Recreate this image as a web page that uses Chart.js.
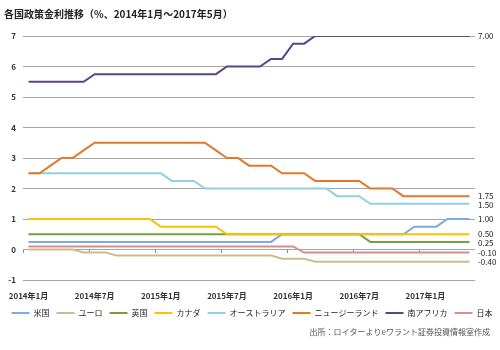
<!DOCTYPE html>
<html>
<head>
<meta charset="utf-8">
<script src="https://cdn.jsdelivr.net/npm/chart.js@4.4.1/dist/chart.umd.min.js"></script>
<style>
  html, body { margin: 0; padding: 0; background: #fff; }
</style>
</head>
<body>
<canvas id="c" width="500" height="350"></canvas>
<script>
// 各国政策金利推移 — monthly, 2014/1 .. 2017/5
const FONT = '"Noto Sans CJK JP", "Noto Sans", sans-serif';

const months = [
  '2014年1月', '2014年2月', '2014年3月', '2014年4月', '2014年5月', '2014年6月',
  '2014年7月', '2014年8月', '2014年9月', '2014年10月', '2014年11月', '2014年12月',
  '2015年1月', '2015年2月', '2015年3月', '2015年4月', '2015年5月', '2015年6月',
  '2015年7月', '2015年8月', '2015年9月', '2015年10月', '2015年11月', '2015年12月',
  '2016年1月', '2016年2月', '2016年3月', '2016年4月', '2016年5月', '2016年6月',
  '2016年7月', '2016年8月', '2016年9月', '2016年10月', '2016年11月', '2016年12月',
  '2017年1月', '2017年2月', '2017年3月', '2017年4月', '2017年5月'
];

const us = [0.25, 0.25, 0.25, 0.25, 0.25, 0.25, 0.25, 0.25, 0.25, 0.25, 0.25, 0.25,
  0.25, 0.25, 0.25, 0.25, 0.25, 0.25, 0.25, 0.25, 0.25, 0.25, 0.25, 0.5,
  0.5, 0.5, 0.5, 0.5, 0.5, 0.5, 0.5, 0.5, 0.5, 0.5, 0.5, 0.75,
  0.75, 0.75, 1.0, 1.0, 1.0];
const euro = [0, 0, 0, 0, 0, -0.1, -0.1, -0.1, -0.2, -0.2, -0.2, -0.2,
  -0.2, -0.2, -0.2, -0.2, -0.2, -0.2, -0.2, -0.2, -0.2, -0.2, -0.2, -0.3,
  -0.3, -0.3, -0.4, -0.4, -0.4, -0.4, -0.4, -0.4, -0.4, -0.4, -0.4, -0.4,
  -0.4, -0.4, -0.4, -0.4, -0.4];
const uk = [0.5, 0.5, 0.5, 0.5, 0.5, 0.5, 0.5, 0.5, 0.5, 0.5, 0.5, 0.5,
  0.5, 0.5, 0.5, 0.5, 0.5, 0.5, 0.5, 0.5, 0.5, 0.5, 0.5, 0.5,
  0.5, 0.5, 0.5, 0.5, 0.5, 0.5, 0.5, 0.25, 0.25, 0.25, 0.25, 0.25,
  0.25, 0.25, 0.25, 0.25, 0.25];
const canada = [1.0, 1.0, 1.0, 1.0, 1.0, 1.0, 1.0, 1.0, 1.0, 1.0, 1.0, 1.0,
  0.75, 0.75, 0.75, 0.75, 0.75, 0.75, 0.5, 0.5, 0.5, 0.5, 0.5, 0.5,
  0.5, 0.5, 0.5, 0.5, 0.5, 0.5, 0.5, 0.5, 0.5, 0.5, 0.5, 0.5,
  0.5, 0.5, 0.5, 0.5, 0.5];
const australia = [2.5, 2.5, 2.5, 2.5, 2.5, 2.5, 2.5, 2.5, 2.5, 2.5, 2.5, 2.5,
  2.5, 2.25, 2.25, 2.25, 2.0, 2.0, 2.0, 2.0, 2.0, 2.0, 2.0, 2.0,
  2.0, 2.0, 2.0, 2.0, 1.75, 1.75, 1.75, 1.5, 1.5, 1.5, 1.5, 1.5,
  1.5, 1.5, 1.5, 1.5, 1.5];
const newZealand = [2.5, 2.5, 2.75, 3.0, 3.0, 3.25, 3.5, 3.5, 3.5, 3.5, 3.5, 3.5,
  3.5, 3.5, 3.5, 3.5, 3.5, 3.25, 3.0, 3.0, 2.75, 2.75, 2.75, 2.5,
  2.5, 2.5, 2.25, 2.25, 2.25, 2.25, 2.25, 2.0, 2.0, 2.0, 1.75, 1.75,
  1.75, 1.75, 1.75, 1.75, 1.75];
const southAfrica = [5.5, 5.5, 5.5, 5.5, 5.5, 5.5, 5.75, 5.75, 5.75, 5.75, 5.75, 5.75,
  5.75, 5.75, 5.75, 5.75, 5.75, 5.75, 6.0, 6.0, 6.0, 6.0, 6.25, 6.25,
  6.75, 6.75, 7.0, 7.0, 7.0, 7.0, 7.0, 7.0, 7.0, 7.0, 7.0, 7.0,
  7.0, 7.0, 7.0, 7.0, 7.0];
const japan = [0.1, 0.1, 0.1, 0.1, 0.1, 0.1, 0.1, 0.1, 0.1, 0.1, 0.1, 0.1,
  0.1, 0.1, 0.1, 0.1, 0.1, 0.1, 0.1, 0.1, 0.1, 0.1, 0.1, 0.1,
  0.1, -0.1, -0.1, -0.1, -0.1, -0.1, -0.1, -0.1, -0.1, -0.1, -0.1, -0.1,
  -0.1, -0.1, -0.1, -0.1, -0.1];

const seriesNames = ['米国', 'ユーロ', '英国', 'カナダ', 'オーストラリア', 'ニュージーランド', '南アフリカ', '日本'];
const seriesData = [us, euro, uk, canada, australia, newZealand, southAfrica, japan];
const seriesColors = ['#7ea8e8', '#c9bc8f', '#77a03c', '#ffc000', '#8fd1e3', '#e2782a', '#5c4489', '#d98c8c'];
const yTicks = [-1, 0, 1, 2, 3, 4, 5, 6, 7];

const titleText = '各国政策金利推移（%、2014年1月～2017年5月）';
const sourceText = '出所：ロイターよりeワラント証券投資情報室作成';

// end-of-line value labels on the right
const endLabels = {
  id: 'endLabels',
  afterDatasetsDraw(chart) {
    const { ctx, chartArea, scales } = chart;
    const items = chart.data.datasets.map(ds => {
      const v = ds.data[ds.data.length - 1];
      return { v, y: scales.y.getPixelForValue(v) };
    }).sort((a, b) => a.y - b.y);
    for (let i = 1; i < items.length; i++) {
      if (items[i].y - items[i - 1].y < 9) items[i].y = items[i - 1].y + 9;
    }
    ctx.save();
    ctx.font = '8px ' + FONT;
    ctx.fillStyle = '#222';
    ctx.textAlign = 'left';
    ctx.textBaseline = 'middle';
    items.forEach(it => ctx.fillText(it.v.toFixed(2), chartArea.right + 3, it.y));
    ctx.restore();
  }
};

const sourceNote = {
  id: 'sourceNote',
  afterDraw(chart) {
    const { ctx } = chart;
    ctx.save();
    ctx.font = '8px ' + FONT;
    ctx.fillStyle = '#555';
    ctx.textAlign = 'right';
    ctx.textBaseline = 'middle';
    ctx.fillText(sourceText, 490, 332);
    ctx.restore();
  }
};

new Chart(document.getElementById('c').getContext('2d'), {
  type: 'line',
  data: {
    labels: months,
    datasets: seriesNames.map((name, i) => ({
      label: name,
      data: seriesData[i],
      borderColor: seriesColors[i],
      backgroundColor: seriesColors[i],
      borderWidth: 2,
      pointRadius: 0,
      tension: 0,
      order: -i,
    }))
  },
  options: {
    responsive: false,
    animation: false,
    layout: { padding: { left: 4, right: 0, top: 0, bottom: 23 } },
    plugins: {
      title: {
        display: true,
        text: titleText,
        align: 'start',
        color: '#222',
        font: { family: FONT, size: 10, weight: 'bold' },
        padding: { top: 8, bottom: 16 }
      },
      legend: {
        position: 'bottom',
        labels: {
          usePointStyle: true,
          pointStyle: 'line',
          pointStyleWidth: 18,
          boxHeight: 8,
          padding: 7,
          color: '#222',
          font: { family: FONT, size: 8 },
          sort: (a, b) => a.datasetIndex - b.datasetIndex
        }
      },
      tooltip: { enabled: false }
    },
    scales: {
      x: {
        type: 'category',
        offset: true,
        grid: { display: false },
        border: { display: false },
        ticks: {
          autoSkip: false,
          maxRotation: 0,
          padding: 3,
          color: '#333',
          font: { family: FONT, size: 8, weight: 'bold' },
          callback: (v, i) => (i % 6 === 0 ? months[i] : '')
        },
        afterFit: s => { s.height = 22; }
      },
      x2: {
        type: 'category',
        position: { y: 0 },
        offset: true,
        grid: {
          offset: true,
          drawOnChartArea: false,
          drawTicks: true,
          tickLength: 3,
          color: c => (c.index % 6 === 0 ? '#888' : 'rgba(0,0,0,0)')
        },
        border: { display: false },
        ticks: { display: false },
        afterFit: s => { s.height = 0; }
      },
      y: {
        min: -1,
        max: 7,
        afterBuildTicks: s => { s.ticks = yTicks.map(v => ({ value: v })); },
        grid: { color: '#a6a6a6', drawTicks: false },
        border: { display: false },
        ticks: {
          padding: 7,
          color: '#333',
          font: { family: FONT, size: 8, weight: 'bold' }
        },
        afterFit: s => { s.width = 19; }
      },
      y2: {
        position: 'right',
        grid: { display: false },
        border: { display: false },
        ticks: { display: false },
        afterFit: s => { s.width = 25; }
      }
    }
  },
  plugins: [endLabels, sourceNote]
});
</script>
</body>
</html>
